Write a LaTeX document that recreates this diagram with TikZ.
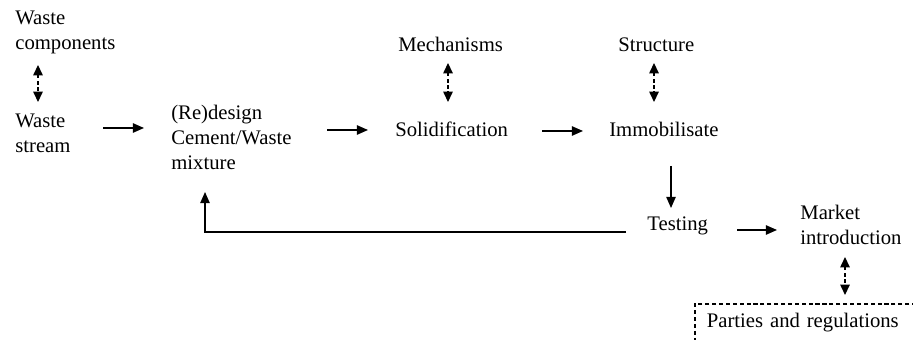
\documentclass[tikz,border=0pt]{standalone}
\usepackage{fontspec}
\setmainfont{Liberation Serif}
\usetikzlibrary{arrows.meta,calc}

\tikzset{
  lbl/.style={inner sep=0, anchor=base west, align=left, font=\fontsize{12}{14.5}\selectfont},
  flow/.style={-{Triangle[length=6.5pt,width=5.5pt]}, line width=0.8pt},
  link/.style={{Triangle[length=6pt,width=5.5pt]}-{Triangle[length=6pt,width=5.5pt]}, dash pattern=on 2pt off 1.5pt, line width=0.7pt},
  partybox/.style={lbl, draw, dash pattern=on 2.4pt off 1.6pt, line width=0.9pt, inner xsep=7pt,
    text height=13.9pt, text depth=14.5pt, text width=140pt}
}

\begin{document}
\begin{tikzpicture}[x=0.58pt, y=-0.58pt]
	\useasboundingbox (0,0) rectangle (913,340);
	\clip (0,0) rectangle (913,340);
	
	% nodes (multi-line ones sit on their last baseline)
	\node[lbl] (comp) at (15,50) {Waste\\components};
	\node[lbl] (stream) at (15,153) {Waste\\stream};
	\node[lbl] (design) at (171,170) {(Re)design\\Cement/Waste\\mixture};
	\node[lbl] (mech) at (398,52) {Mechanisms};
	\node[lbl] (solid) at (395,137) {Solidification};
	\node[lbl] (struct) at (618,52) {Structure};
	\node[lbl] (immob) at (609,137) {Immobilisate};
	\node[lbl] (testing) at (647,231) {Testing};
	\node[lbl] (market) at (800,245) {Market\\introduction};
	\node[partybox] (parties) at (694,328) {Parties and regulations};
	
	% main flow
	\draw[flow] ($(stream.base west)+(88,-25)$) -- ($(design.base west)+(-27,-42)$);
	\draw[flow] ($(design.base west)+(156,-40)$) -- ($(solid.base west)+(-27,-7)$);
	\draw[flow] ($(solid.base west)+(147,-6)$) -- ($(immob.base west)+(-26,-6)$);
	\draw[flow] ($(immob.base west)+(62,29)$) -- ($(testing.base west)+(24,-23)$);
	\draw[flow] ($(testing.base west)+(-21,1)$) -| ($(design.base west)+(34,22)$);
	\draw[flow] ($(testing.base west)+(90,-1)$) -- ($(market.base west)+(-23,-15)$);
	
	% dashed links
	\draw[link] ($(comp.base west)+(23,15)$) -- ($(stream.base west)+(23,-51)$);
	\draw[link] ($(mech.base west)+(50,11)$) -- ($(solid.base west)+(53,-35)$);
	\draw[link] ($(struct.base west)+(36,11)$) -- ($(immob.base west)+(45,-35)$);
	\draw[link] ($(market.base west)+(45,12)$) -- ($(parties.base west)+(151,-33)$);
\end{tikzpicture}
\end{document}
